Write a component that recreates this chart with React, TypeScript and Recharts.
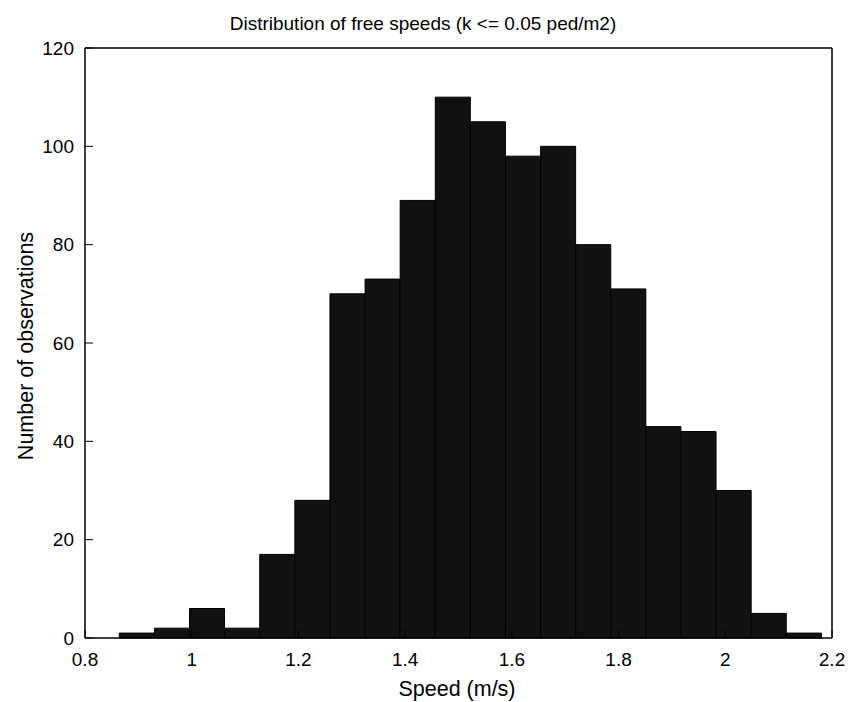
import { BarChart, Bar, XAxis, YAxis } from 'recharts'

// bin centres (m/s) and counts
const binCenters = [
  0.8972, 0.963, 1.0288, 1.0946, 1.1604, 1.2262, 1.292, 1.3578, 1.4236, 1.4894,
  1.5552, 1.621, 1.6868, 1.7526, 1.8184, 1.8842, 1.95, 2.0158, 2.0816, 2.1474
]
const counts = [1, 2, 6, 2, 17, 28, 70, 73, 89, 110, 105, 98, 100, 80, 71, 43, 42, 30, 5, 1]
const binWidth = 0.0658

const xTicks = [0.8, 1, 1.2, 1.4, 1.6, 1.8, 2, 2.2]
const yTicks = [0, 20, 40, 60, 80, 100, 120]

const data = binCenters.map((speed, i) => ({ speed, count: counts[i] }))

const W = 852
const H = 702
const M = { top: 47, right: 19, left: 0, bottom: 0 }
const Y_AXIS_W = 85
const X_AXIS_H = 64
const plotW = W - M.left - M.right - Y_AXIS_W - 1
// keep a hair under the band so recharts doesn't shrink the bars
const barPx = (binWidth * plotW) / (xTicks[xTicks.length - 1] - xTicks[0]) - 0.1

const font = "'Liberation Sans', Arial, sans-serif"
const tickStyle = { fontSize: 19, fill: '#000', fontFamily: font }
const axisLine = { stroke: '#000', strokeWidth: 1.5 }
const tickLine = { stroke: '#000', strokeWidth: 1 }

export default function App () {
  return (
    <div style={{ position: 'absolute', left: 0, top: 0, background: '#fff' }}>
      <BarChart width={W} height={H} data={data} margin={M}>
        <XAxis
          dataKey='speed'
          type='number'
          domain={[0.8, 2.2]}
          ticks={xTicks}
          allowDataOverflow
          height={X_AXIS_H}
          tickSize={-8}
          tickMargin={23}
          tick={tickStyle}
          axisLine={axisLine}
          tickLine={tickLine}
        />
        <XAxis
          xAxisId='top'
          dataKey='speed'
          type='number'
          orientation='top'
          domain={[0.8, 2.2]}
          ticks={xTicks}
          allowDataOverflow
          height={1}
          tickSize={-8}
          tick={false}
          axisLine={axisLine}
          tickLine={tickLine}
        />
        <YAxis
          domain={[0, 120]}
          ticks={yTicks}
          width={Y_AXIS_W}
          tickSize={-8}
          tickMargin={19}
          tick={tickStyle}
          axisLine={axisLine}
          tickLine={tickLine}
        />
        <YAxis
          yAxisId='right'
          orientation='right'
          domain={[0, 120]}
          ticks={yTicks}
          width={1}
          tickSize={-8}
          tick={false}
          axisLine={axisLine}
          tickLine={tickLine}
        />
        <Bar
          dataKey='count'
          fill='#111111'
          stroke='#000'
          strokeWidth={1}
          barSize={barPx}
          isAnimationActive={false}
        />
        <text x={423} y={30} textAnchor='middle' fontSize={19} fontFamily={font} fill='#000'>
          Distribution of free speeds (k &lt;= 0.05 ped/m2)
        </text>
        <text x={457} y={696} textAnchor='middle' fontSize={21.5} fontFamily={font} fill='#000'>
          Speed (m/s)
        </text>
        <text
          x={33}
          y={346}
          textAnchor='middle'
          fontSize={21.5}
          fontFamily={font}
          fill='#000'
          transform='rotate(-90 33 346)'
        >
          Number of observations
        </text>
      </BarChart>
    </div>
  )
}
